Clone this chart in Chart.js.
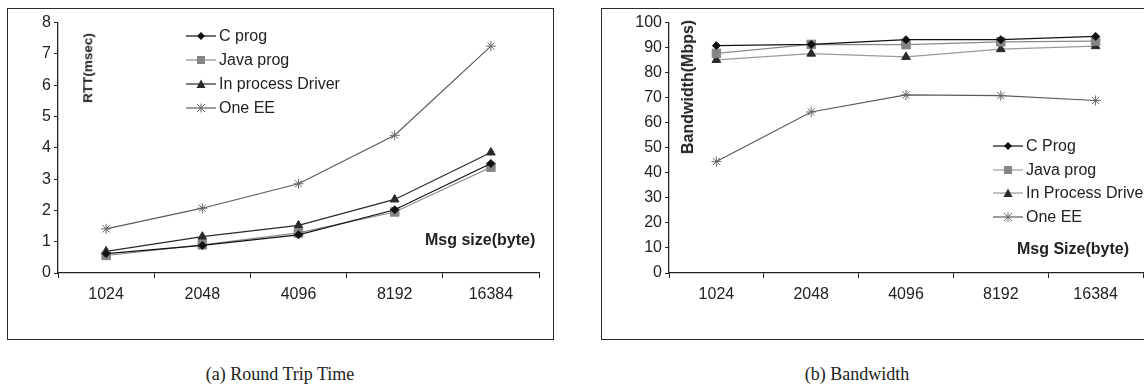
<!DOCTYPE html>
<html>
<head>
<meta charset="utf-8">
<script src="https://cdn.jsdelivr.net/npm/chart.js@4.4.1/dist/chart.umd.min.js"></script>
<style>
 html, body { margin: 0; padding: 0; background: #fff; }
 body { width: 1144px; height: 388px; position: relative; overflow: hidden; font-family: "Liberation Sans", Arial, sans-serif; color: #222; }
 .frame { position: absolute; border: 1.5px solid #2a2a2a; box-sizing: border-box; }
 .box { position: absolute; }
 .txt { position: absolute; white-space: nowrap; font-size: 16px; line-height: 1; }
 .bold { font-weight: bold; }
 .vert { transform: translate(-50%, -50%) rotate(-90deg); }
 .legend-row { position: absolute; display: flex; align-items: center; font-size: 16px; white-space: nowrap; }
 .legend-row svg { margin-right: 3px; }
 .caption { position: absolute; font-family: "Liberation Serif", "Times New Roman", serif; font-size: 18px; transform: translateX(-50%); white-space: nowrap; }
</style>
</head>
<body>
<div class="frame" style="left:7px;top:8px;width:547px;height:332px;"></div>
<div class="frame" style="left:601px;top:8px;width:570px;height:332px;"></div>

<div class="box" style="left:9px;top:10px;width:544px;height:329px;"><canvas id="rttChart"></canvas></div>
<div class="box" style="left:603px;top:10px;width:560px;height:329px;"><canvas id="bwChart"></canvas></div>

<div class="txt bold vert" style="left:88px;top:68px;font-size:13.5px;">RTT(msec)</div>
<div class="txt bold" style="left:425px;top:232px;">Msg size(byte)</div>
<div class="txt bold vert" style="left:688px;top:87px;font-size:16px;">Bandwidth(Mbps)</div>
<div class="txt bold" style="left:1017px;top:241px;">Msg Size(byte)</div>

<div id="rttLegend"></div>
<div id="bwLegend"></div>

<div class="caption" style="left:280px;top:364px;">(a) Round Trip Time</div>
<div class="caption" style="left:857px;top:364px;">(b) Bandwidth</div>

<script>
const categories = ["1024", "2048", "4096", "8192", "16384"];

// (a) round trip time, msec
const rttC = [0.62, 0.88, 1.22, 2.02, 3.5];
const rttJava = [0.56, 0.9, 1.28, 1.95, 3.38];
const rttDriver = [0.69, 1.16, 1.52, 2.35, 3.85];
const rttOneEE = [1.41, 2.07, 2.85, 4.4, 7.25];

// (b) bandwidth, Mbps
const bwC = [90.8, 91.3, 93.2, 93.2, 94.5];
const bwJava = [87.7, 91.3, 91.2, 92.3, 92.6];
const bwDriver = [85.1, 87.6, 86.3, 89.4, 90.6];
const bwOneEE = [44.5, 64.3, 71.1, 70.8, 68.9];

const rttNames = ["C prog", "Java prog", "In process Driver", "One EE"];
const bwNames = ["C Prog", "Java prog", "In Process Driver", "One EE"];

function series(label, data, line, marker, style, radius) {
 return {
  label,
  data,
  borderColor: line,
  borderWidth: 1.2,
  pointStyle: style,
  pointRadius: radius,
  pointBorderColor: marker,
  pointBackgroundColor: marker,
  pointBorderWidth: 1,
  tension: 0,
  fill: false,
 };
}

function makeChart(id, datasets, max, step, yWidth, padTop, padRight) {
 return new Chart(document.getElementById(id), {
  type: "line",
  data: { labels: categories, datasets },
  options: {
   responsive: true,
   maintainAspectRatio: false,
   animation: false,
   layout: { padding: { top: padTop, right: padRight, left: 0, bottom: 0 } },
   plugins: { legend: { display: false }, tooltip: { enabled: false } },
   scales: {
    x: {
     offset: true,
     grid: { offset: true, drawOnChartArea: false, tickLength: 5, color: "#222" },
     border: { color: "#222", width: 1.3 },
     ticks: { color: "#222", font: { family: "Liberation Sans", size: 16 }, padding: 7, maxRotation: 0 },
     afterFit: (s) => { s.height = 66; },
    },
    y: {
     min: 0,
     max,
     grid: { drawOnChartArea: false, tickLength: 4, color: "#222" },
     border: { color: "#222", width: 1.3 },
     ticks: { stepSize: step, color: "#222", font: { family: "Liberation Sans", size: 16 }, padding: 3 },
     afterFit: (s) => { s.width = yWidth; },
    },
   },
  },
 });
}

makeChart("rttChart", [
 series(rttNames[0], rttC, "#111", "#111", "rectRot", 4),
 series(rttNames[1], rttJava, "#8a8a8a", "#858585", "rect", 6),
 series(rttNames[2], rttDriver, "#2a2a2a", "#2a2a2a", "triangle", 5),
 series(rttNames[3], rttOneEE, "#5a5a5a", "#666", "star", 5),
], 8, 1, 49, 10, 14);

makeChart("bwChart", [
 series(bwNames[0], bwC, "#111", "#111", "rectRot", 4),
 series(bwNames[1], bwJava, "#8a8a8a", "#858585", "rect", 6),
 series(bwNames[2], bwDriver, "#9a9a9a", "#2a2a2a", "triangle", 5),
 series(bwNames[3], bwOneEE, "#5a5a5a", "#666", "star", 5),
], 100, 10, 66, 11, 20);

// legend icons: short line with the series marker
const icons = [
 (c) => `<line x1="0" y1="6" x2="30" y2="6" stroke="${c}" stroke-width="1.2"/><polygon points="15,2 19,6 15,10 11,6" fill="#111"/>`,
 (c) => `<line x1="0" y1="6" x2="30" y2="6" stroke="${c}" stroke-width="1.2"/><rect x="11" y="2" width="8" height="8" fill="#858585"/>`,
 (c) => `<line x1="0" y1="6" x2="30" y2="6" stroke="${c}" stroke-width="1.2"/><polygon points="15,1.5 19.5,10 10.5,10" fill="#2a2a2a"/>`,
 (c) => `<line x1="0" y1="6" x2="30" y2="6" stroke="${c}" stroke-width="1.2"/><path d="M11,2 L19,10 M19,2 L11,10 M15,1.5 L15,10.5" stroke="#666" stroke-width="1"/>`,
];

function legend(el, names, lineColors, left, tops) {
 el.innerHTML = names.map((n, i) => `
  <div class="legend-row" style="left:${left}px;top:${tops[i] - 9}px;">
   <svg width="30" height="12">${icons[i](lineColors[i])}</svg><span>${n}</span>
  </div>`).join("");
}

legend(document.getElementById("rttLegend"), rttNames, ["#111", "#8a8a8a", "#2a2a2a", "#5a5a5a"], 186, [36, 60, 84, 108]);
legend(document.getElementById("bwLegend"), bwNames, ["#111", "#9a9a9a", "#9a9a9a", "#5a5a5a"], 993, [146, 170, 193, 217]);
</script>
</body>
</html>
